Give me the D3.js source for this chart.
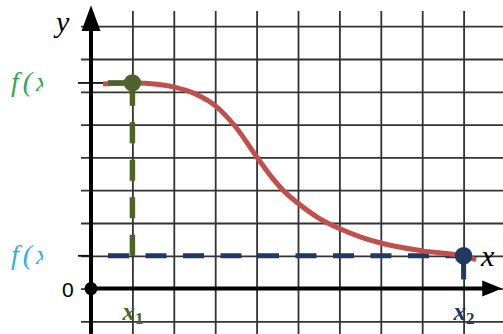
<!DOCTYPE html>
<html>
<head>
<meta charset="utf-8">
<script src="https://cdn.jsdelivr.net/npm/d3@7"></script>
<style>
  html, body { margin: 0; padding: 0; background: #fff; }
  svg { display: block; }
</style>
</head>
<body>
<script>
// curve samples (grid units)
const curveX = [0.29, 1.0, 1.6, 2.0, 2.3, 2.6, 3.0, 3.5, 4.0, 4.35, 4.65, 5.0, 5.5, 6.0, 6.5, 7.0, 8.0, 9.0, 9.3];
const curveY = [6.24, 6.27, 6.23, 6.15, 6.04, 5.89, 5.58, 4.92, 4.02, 3.42, 2.98, 2.6, 2.15, 1.83, 1.58, 1.39, 1.15, 0.99, 0.88];

const gridX = [1, 2, 3, 4, 5, 6, 7, 8, 9];
const gridY = [-1, 0, 1, 2, 3, 4, 5, 6, 7, 8];

const x1 = 1, x2 = 9;
const fx1 = 6.27, fx2 = 1;

const width = 503, height = 334;

const svg = d3.select("body").append("svg")
    .attr("width", width)
    .attr("height", height);

// scales: one grid cell = 1 unit
var x = d3.scaleLinear().domain([0, 10]).range([91, 505]);
var y = d3.scaleLinear().domain([0, 8]).range([288.6, 26.2]);

const gridColor = "#333";
const green = "#4f6228";
const navy = "#1f3864";

// horizontal grid
var yGrid = d3.axisLeft(y).tickValues(gridY).tickSize(-(width - 81)).tickFormat("");
svg.append("g")
    .attr("transform", "translate(81,0)")
    .call(yGrid)
    .call(g => g.select(".domain").remove())
    .selectAll("line").attr("stroke", gridColor).attr("stroke-width", 1.8);

// vertical grid
var xGrid = d3.axisTop(x).tickValues(gridX).tickSize(-(height - 11)).tickFormat("");
svg.append("g")
    .attr("transform", "translate(0,11)")
    .call(xGrid)
    .call(g => g.select(".domain").remove())
    .selectAll("line").attr("stroke", gridColor).attr("stroke-width", 1.8);

// short ticks for f(x1), f(x2)
svg.append("line")
    .attr("x1", 78).attr("x2", x(0.3))
    .attr("y1", y(fx1)).attr("y2", y(fx1))
    .attr("stroke", "#111").attr("stroke-width", 1.8);
svg.append("line")
    .attr("x1", 78).attr("x2", x(0))
    .attr("y1", y(fx2)).attr("y2", y(fx2))
    .attr("stroke", "#111").attr("stroke-width", 1.8);

// axes
svg.append("line")
    .attr("x1", x(0)).attr("x2", x(0))
    .attr("y1", height).attr("y2", y(8.3))
    .attr("stroke", "#000").attr("stroke-width", 4);
svg.append("path")
    .attr("d", `M${x(0)},${y(8.64)} L${x(0) - 9.5},${y(7.85)} L${x(0) + 9.5},${y(7.85)} Z`)
    .attr("fill", "#000");

svg.append("line")
    .attr("x1", x(0)).attr("x2", x(9.6))
    .attr("y1", y(0)).attr("y2", y(0))
    .attr("stroke", "#000").attr("stroke-width", 4);
svg.append("path")
    .attr("d", `M${x(9.93)},${y(0)} L${x(9.45)},${y(0) - 8} L${x(9.45)},${y(0) + 8} Z`)
    .attr("fill", "#000");

svg.append("circle")
    .attr("cx", x(0)).attr("cy", y(0)).attr("r", 6.5)
    .attr("fill", "#000");

// dashed guides
svg.append("line")
    .attr("x1", x(0.41)).attr("x2", x(x2))
    .attr("y1", y(fx2)).attr("y2", y(fx2))
    .attr("stroke", navy).attr("stroke-width", 5)
    .attr("stroke-dasharray", "21,16.5");

svg.append("line")
    .attr("x1", x(x1)).attr("x2", x(x1))
    .attr("y1", y(fx2)).attr("y2", y(fx1))
    .attr("stroke", green).attr("stroke-width", 5.5)
    .attr("stroke-dasharray", "21,16.5");

// curve
const pts = curveX.map((d, i) => [d, curveY[i]]);
var line = d3.line()
    .x(d => x(d[0]))
    .y(d => y(d[1]))
    .curve(d3.curveMonotoneX);
svg.append("path")
    .datum(pts)
    .attr("d", line)
    .attr("fill", "none")
    .attr("stroke", "#c0504d")
    .attr("stroke-width", 5)
    .attr("stroke-linecap", "butt");

// green horizontal stub
svg.append("line")
    .attr("x1", x(0.41)).attr("x2", x(x1))
    .attr("y1", y(fx1)).attr("y2", y(fx1))
    .attr("stroke", green).attr("stroke-width", 5.5)
    .attr("stroke-dasharray", "21,16.5");

// blue vertical stub
svg.append("line")
    .attr("x1", x(x2)).attr("x2", x(x2))
    .attr("y1", y(fx2)).attr("y2", y(0.28))
    .attr("stroke", navy).attr("stroke-width", 5);

// points
svg.append("circle")
    .attr("cx", x(x1)).attr("cy", y(fx1)).attr("r", 8.7)
    .attr("fill", green);
svg.append("circle")
    .attr("cx", x(x2)).attr("cy", y(fx2)).attr("r", 8.8)
    .attr("fill", navy);

// labels
const serif = "'Liberation Serif', 'DejaVu Serif', serif";

svg.append("text")
    .attr("x", 56).attr("y", 32)
    .attr("font-family", serif).attr("font-style", "italic")
    .attr("font-size", 30).attr("fill", "#000")
    .text("y");

svg.append("text")
    .attr("x", 481).attr("y", 266)
    .attr("font-family", serif).attr("font-style", "italic")
    .attr("font-size", 30).attr("fill", "#000")
    .text("x");

svg.append("text")
    .attr("x", 62).attr("y", 297)
    .attr("font-family", "'Liberation Sans', Arial, sans-serif")
    .attr("font-size", 21).attr("fill", "#000")
    .text("0");

// f(x) labels, cut off on the right like in the source image
svg.append("clipPath").attr("id", "clipLeft")
    .append("rect").attr("x", 0).attr("y", 0).attr("width", 43).attr("height", height);

const fLabels = [
    { t: "f(x₁)", v: fx1, c: "#2fa84f" },
    { t: "f(x₂)", v: fx2, c: "#35aee0" }
];
fLabels.forEach(d => {
    svg.append("text")
        .attr("clip-path", "url(#clipLeft)")
        .attr("x", 11).attr("y", y(d.v) + 8)
        .attr("font-family", serif).attr("font-style", "italic")
        .attr("font-size", 28).attr("letter-spacing", 4).attr("fill", d.c)
        .text(d.t);
});

// x1, x2 labels under the axis
const xLabels = [
    { v: x1, sub: "1", c: green },
    { v: x2, sub: "2", c: navy }
];
xLabels.forEach(d => {
    const t = svg.append("text")
        .attr("x", x(d.v) - 10).attr("y", 320)
        .attr("font-family", serif).attr("font-style", "italic")
        .attr("font-weight", "bold")
        .attr("font-size", 25).attr("fill", d.c);
    t.append("tspan").text("x");
    t.append("tspan").attr("dy", 4).attr("font-size", 17).attr("font-style", "normal").text(d.sub);
});
</script>
</body>
</html>
